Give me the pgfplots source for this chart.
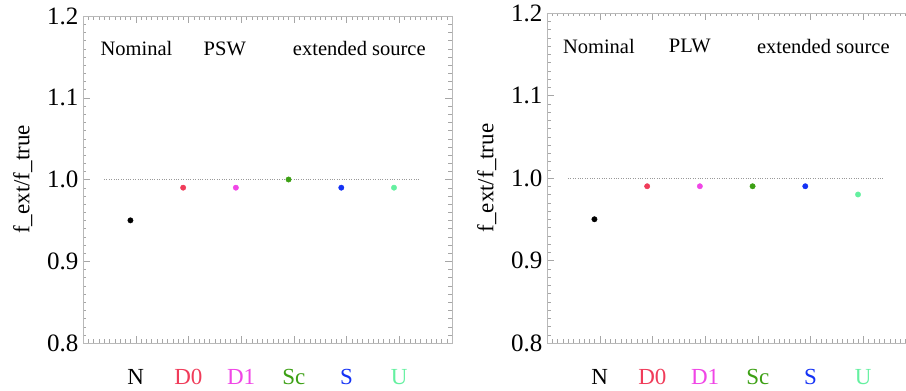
\documentclass[border=0pt]{standalone}
\usepackage{pgfplots}
\pgfplotsset{compat=1.18}
\usepackage{fontspec}
\setmainfont{Liberation Serif}
\definecolor{cN}{HTML}{000000}
\definecolor{cD0}{HTML}{F03C5A}
\definecolor{cD1}{HTML}{F046E6}
\definecolor{cSc}{HTML}{3CA014}
\definecolor{cS}{HTML}{1432F5}
\definecolor{cU}{HTML}{64F0A0}
\pgfplotsset{
  panel/.style={
    scale only axis, width=369pt,
    xmin=0, xmax=7, ymin=0.8, ymax=1.2,
    xtick={0,...,7}, minor x tick num=9,
    ytick={0.8,0.9,...,1.21}, minor y tick num=9,
    xticklabels={{},N,\textcolor{cD0}{D0},\textcolor{cD1}{D1},\textcolor{cSc}{Sc},\textcolor{cS}{S},\textcolor{cU}{U},{}},
    axis line style={gray!55}, tick style={gray!70},
    major tick length=7pt, minor tick length=3.5pt,
    tick align=inside,
    /pgf/number format/assume math mode=true,
    yticklabel style={/pgf/number format/fixed,/pgf/number format/fixed zerofill,/pgf/number format/precision=1, font=\fontsize{25}{29}\selectfont, xshift=-1pt},
    xticklabel style={font=\fontsize{23}{27}\selectfont, yshift=-23pt},
    ylabel={f\_ext/f\_true},
    ylabel style={font=\fontsize{23}{27}\selectfont, yshift=8pt},
    clip=false,
  },
  dot/.style={only marks, mark=*, mark size=2.7pt},
}
\begin{document}
\begin{tikzpicture}
\useasboundingbox (0,0) rectangle (906pt,391pt);
% Left panel: PSW
\begin{axis}[panel, height=327pt, at={(83pt,48pt)}, anchor=south west]
\addplot[gray!80, dotted, thin] coordinates {(0.4,1.0) (6.4,1.0)};
\addplot[dot, color=cN]  coordinates {(0.9,0.95)};
\addplot[dot, color=cD0] coordinates {(1.9,0.99)};
\addplot[dot, color=cD1] coordinates {(2.9,0.99)};
\addplot[dot, color=cSc] coordinates {(3.9,1.00)};
\addplot[dot, color=cS]  coordinates {(4.9,0.99)};
\addplot[dot, color=cU]  coordinates {(5.9,0.99)};
\node[anchor=west, font=\fontsize{20.5}{24}\selectfont, inner sep=0pt] at (axis cs:0.33,1.16) {Nominal};
\node[font=\fontsize{20.5}{24}\selectfont, inner sep=0pt] at (axis cs:2.69,1.16) {PSW};
\node[anchor=west, font=\fontsize{20.5}{24}\selectfont, inner sep=0pt] at (axis cs:3.98,1.16) {extended source};
\end{axis}
% Right panel: PLW
\begin{axis}[panel, height=330pt, at={(547pt,48pt)}, anchor=south west]
\addplot[gray!80, dotted, thin] coordinates {(0.4,1.0) (6.4,1.0)};
\addplot[dot, color=cN]  coordinates {(0.9,0.95)};
\addplot[dot, color=cD0] coordinates {(1.9,0.99)};
\addplot[dot, color=cD1] coordinates {(2.9,0.99)};
\addplot[dot, color=cSc] coordinates {(3.9,0.99)};
\addplot[dot, color=cS]  coordinates {(4.9,0.99)};
\addplot[dot, color=cU]  coordinates {(5.9,0.98)};
\node[anchor=west, font=\fontsize{20.5}{24}\selectfont, inner sep=0pt] at (axis cs:0.30,1.16) {Nominal};
\node[font=\fontsize{20.5}{24}\selectfont, inner sep=0pt] at (axis cs:2.71,1.16) {PLW};
\node[anchor=west, font=\fontsize{20.5}{24}\selectfont, inner sep=0pt] at (axis cs:3.98,1.16) {extended source};
\end{axis}
\end{tikzpicture}
\end{document}
